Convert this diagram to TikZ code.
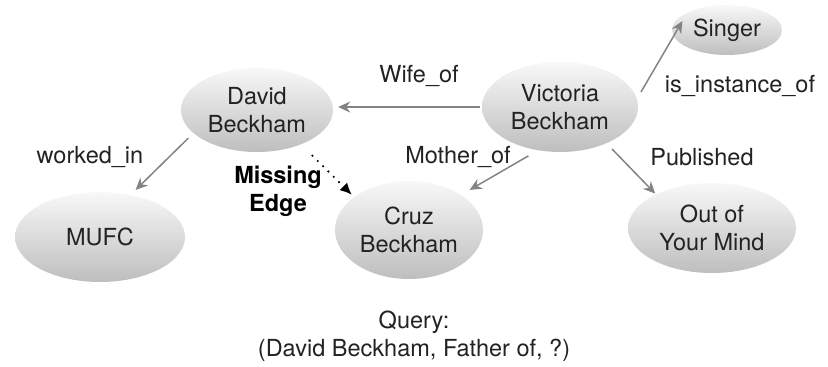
\documentclass[tikz,border=0pt]{standalone}
\usepackage{fontspec}
\setmainfont{TeX Gyre Heros}
\usetikzlibrary{shapes.geometric,arrows.meta}
\definecolor{txt}{HTML}{222222}
\definecolor{edgegray}{HTML}{838383}
\definecolor{topc}{HTML}{F8F8F8}
\definecolor{botc}{HTML}{BEBEBE}
\begin{document}
\begin{tikzpicture}[x=1pt,y=-1pt,
  ent/.style={ellipse, inner sep=0pt, top color=topc, bottom color=botc, draw=none,
    text=txt, align=center, font=\fontsize{23.5}{28}\selectfont},
  rel/.style={text=txt, inner sep=0pt, align=center, font=\fontsize{23.5}{28}\selectfont},
  edge/.style={draw=edgegray, line width=1.5pt, -{Stealth[length=12pt,width=11pt]}},
  miss/.style={draw=black, line width=2.4pt, line cap=round, dash pattern=on 0pt off 7.5pt,
    -{Latex[length=12pt,width=11pt]}}]
\useasboundingbox (0,0) rectangle (828,367);
% entities
\node[ent, minimum width=152pt, minimum height=84pt] (d) at (257,110) {David\\Beckham};
\node[ent, minimum width=156pt, minimum height=90pt] (v) at (560,107) {Victoria\\Beckham};
\node[ent, minimum width=110pt, minimum height=50pt] (s) at (727,30) {Singer};
\node[ent, minimum width=170pt, minimum height=90pt] (m) at (100,237) {MUFC};
\node[ent, minimum width=148pt, minimum height=98pt] (c) at (409,230) {Cruz\\Beckham};
\node[ent, minimum width=168pt, minimum height=90pt] (o) at (712,228) {Out of\\Your Mind};
% relations
\draw[edge, shorten <=2pt, shorten >=5pt] (v.west) -- (v.west -| d.east);
\draw[edge, shorten <=7pt, shorten >=7pt] (d.200) -- (m.54);
\draw[edge, shorten <=11pt, shorten >=10pt] (v.243) -- (c.34);
\draw[edge, shorten <=8pt, shorten >=1pt] (v.322) -- (o.149);
\draw[edge, shorten <=8pt, shorten >=10pt] (v.6) -- (s.156);
\draw[miss, shorten <=16pt, shorten >=3pt] (d.322) -- (c.149);
% labels
\node[rel] (lw) at (419,76) {Wife\_of};
\node[rel] (lk) at (90,157) {worked\_in};
\node[rel] (lmo) at (458,157) {Mother\_of};
\node[rel] (lp) at (702,157) {Published};
\node[rel] (li) at (740,86) {is\_instance\_of};
\node[rel, text=black, font=\fontsize{23.5}{28}\selectfont\bfseries] (lme) at (278,191) {Missing\\Edge};
\node[rel] (q) at (414,336) {Query:\\(David Beckham, Father of, ?)};
\end{tikzpicture}
\end{document}
